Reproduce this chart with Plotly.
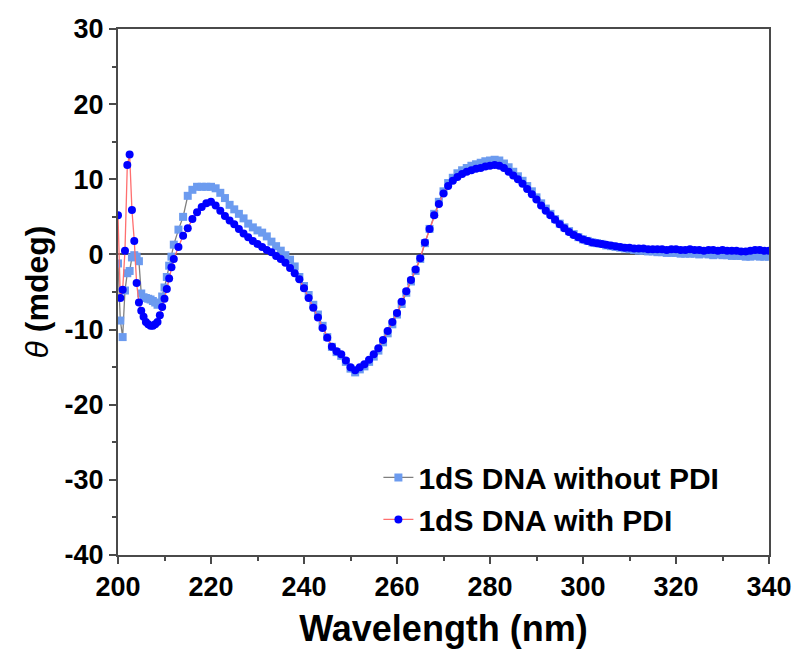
import plotly.graph_objects as go

# Wavelengths (nm): 0.5 nm steps for 200-212, then 1 nm steps to 340
wl_early = [200.0, 200.5, 201.0, 201.5, 202.0, 202.5, 203.0, 203.5, 204.0, 204.5,
            205.0, 205.5, 206.0, 206.5, 207.0, 207.5, 208.0, 208.5, 209.0, 209.5,
            210.0, 210.5, 211.0, 211.5, 212.0]
wl_rest = list(range(213, 341))

without_early = [-1.2, -8.8, -11.0, -4.8, -2.5, -2.2, -0.4, -0.1, -0.3, -0.9,
                 -5.2, -5.7, -5.8, -5.9, -6.0, -6.2, -6.4, -6.7, -6.6, -5.6,
                 -4.4, -3.0, -1.5, -0.3, 1.3]
without_rest = [3.3, 5.0, 7.8, 8.6, 9.0, 9.0, 9.0, 9.0, 8.8, 8.2,  # 213-222
                7.5, 6.6, 6.0, 5.4, 4.8, 4.1, 3.6, 3.2, 2.9, 2.4,  # 223-232
                1.7, 1.1, 0.5, -0.1, -0.7, -1.6, -3.0, -4.2, -5.4, -6.7,  # 233-242
                -8.0, -9.5, -11.0, -12.3, -13.0, -13.5, -14.3, -15.2, -15.7, -15.3,  # 243-252
                -14.9, -14.3, -13.6, -12.8, -11.7, -10.5, -9.3, -8.0, -6.6, -5.1,  # 253-262
                -3.6, -2.2, -0.6, 1.5, 3.4, 5.4, 7.0, 8.4, 9.5, 10.2,  # 263-272
                10.8, 11.2, 11.5, 11.8, 12.0, 12.2, 12.4, 12.5, 12.6, 12.5,  # 273-282
                12.1, 11.6, 11.0, 10.4, 9.8, 9.1, 8.4, 7.6, 6.8, 6.1,  # 283-292
                5.4, 4.7, 4.1, 3.6, 3.1, 2.7, 2.3, 2.0, 1.8, 1.6,  # 293-302
                1.5, 1.4, 1.2, 1.1, 1.0, 0.9, 0.8, 0.7, 0.6, 0.5,  # 303-312
                0.5, 0.4, 0.4, 0.3, 0.3, 0.2, 0.2, 0.2, 0.1, 0.1,  # 313-322
                0.1, 0.1, 0.0, 0.1, 0.0, -0.1, 0.0, -0.1, -0.1, -0.2,  # 323-332
                -0.2, -0.2, -0.3, -0.3, -0.2, -0.3, -0.3, -0.3]  # 333-340

with_early = [5.2, -5.8, -4.7, 0.5, 11.9, 13.3, 5.9, 1.8, -3.8, -6.4,
              -7.5, -8.3, -9.0, -9.3, -9.5, -9.5, -9.3, -9.0, -8.1, -7.0,
              -5.9, -4.6, -3.2, -1.7, -0.6]
with_rest = [1.0, 2.5, 3.5, 4.7, 5.6, 6.3, 6.8, 7.0, 6.5, 5.8,  # 213-222
             5.1, 4.5, 4.0, 3.4, 2.8, 2.3, 1.8, 1.4, 1.0, 0.6,  # 223-232
             0.3, -0.2, -0.6, -1.1, -1.8, -2.5, -3.3, -4.5, -5.8, -7.1,  # 233-242
             -8.4, -9.8, -11.1, -12.3, -12.9, -13.3, -14.1, -15.0, -15.4, -15.0,  # 243-252
             -14.6, -14.0, -13.3, -12.5, -11.4, -10.2, -9.0, -7.8, -6.3, -4.9,  # 253-262
             -3.4, -2.0, -0.5, 1.6, 3.4, 5.2, 6.7, 8.1, 9.1, 9.8,  # 263-272
             10.3, 10.7, 11.0, 11.2, 11.4, 11.5, 11.7, 11.8, 11.9, 11.8,  # 273-282
             11.5, 11.0, 10.5, 10.0, 9.4, 8.7, 8.0, 7.3, 6.5, 5.8,  # 283-292
             5.2, 4.6, 4.0, 3.5, 3.0, 2.6, 2.3, 2.0, 1.8, 1.6,  # 293-302
             1.5, 1.4, 1.3, 1.2, 1.1, 1.0, 0.9, 0.9, 0.8, 0.8,  # 303-312
             0.8, 0.7, 0.7, 0.7, 0.7, 0.6, 0.7, 0.7, 0.6, 0.6,  # 313-322
             0.7, 0.6, 0.6, 0.5, 0.6, 0.6, 0.5, 0.6, 0.5, 0.5,  # 323-332
             0.5, 0.4, 0.4, 0.5, 0.6, 0.6, 0.5, 0.5]  # 333-340

series_names = ["1dS DNA without PDI", "1dS DNA with PDI"]
x_ticks = [200, 220, 240, 260, 280, 300, 320, 340]
y_ticks = [30, 20, 10, 0, -10, -20, -30, -40]

wavelength = wl_early + wl_rest
without_pdi = without_early + without_rest
with_pdi = with_early + with_rest

FONT = "Liberation Sans, Arial, sans-serif"
AX = "#4a4a4a"

fig = go.Figure()
fig.add_trace(go.Scatter(
    x=wavelength, y=without_pdi, name=series_names[0], mode="lines+markers",
    line=dict(color="#7f7f7f", width=1.3),
    marker=dict(symbol="square", size=8, color="#6c9bef", line=dict(width=0)),
))
fig.add_trace(go.Scatter(
    x=wavelength, y=with_pdi, name=series_names[1], mode="lines+markers",
    line=dict(color="#ff6f6f", width=1.3),
    marker=dict(symbol="circle", size=8, color="#0000ff", line=dict(width=0)),
))

fig.update_layout(
    width=798, height=651,
    margin=dict(l=118, r=29, t=29, b=96, autoexpand=False),
    paper_bgcolor="white", plot_bgcolor="white",
    font=dict(family=FONT, color="black"),
    showlegend=True,
    legend=dict(
        x=0.40, y=0.197, xanchor="left", yanchor="top",
        bgcolor="rgba(0,0,0,0)", borderwidth=0,
        font=dict(family=FONT, size=30, color="black", weight="bold"),
        tracegroupgap=0,
    ),
)
fig.update_xaxes(
    range=[200, 340], tickvals=x_ticks, ticktext=[str(v) for v in x_ticks],
    automargin=False,
    showline=True, linecolor=AX, linewidth=2, mirror=True,
    ticks="outside", ticklen=7, tickwidth=1.5, tickcolor=AX,
    minor=dict(dtick=10, tick0=200, ticks="outside", ticklen=4, tickwidth=1.5, tickcolor=AX),
    showgrid=False, zeroline=False,
    tickfont=dict(family=FONT, size=27, color="black", weight="bold"),
    title=dict(text="Wavelength (nm)", font=dict(family=FONT, size=36, color="black", weight="bold"),
               standoff=14),
)
fig.update_yaxes(
    range=[-40, 30], tickvals=y_ticks, ticktext=[str(v) for v in y_ticks],
    automargin=False,
    showline=True, linecolor=AX, linewidth=2, mirror=True,
    ticks="outside", ticklen=7, tickwidth=1.5, tickcolor=AX,
    minor=dict(dtick=5, tick0=0, ticks="outside", ticklen=4, tickwidth=1.5, tickcolor=AX),
    showgrid=False, zeroline=True, zerolinecolor="#555555", zerolinewidth=2,
    tickfont=dict(family=FONT, size=27, color="black", weight="bold"),
    title=dict(text="<i style='font-weight:normal'>θ</i> (mdeg)",
               font=dict(family=FONT, size=32, color="black", weight="bold"), standoff=6),
)

fig.write_html("out.html")
